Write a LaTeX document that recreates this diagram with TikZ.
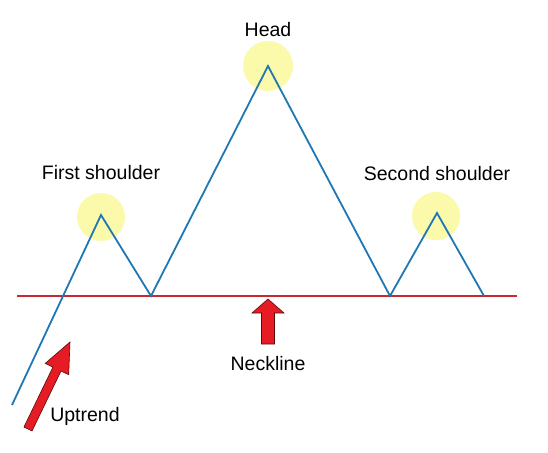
\documentclass[tikz,border=0pt]{standalone}
\usepackage{fontspec}
\setmainfont{Liberation Sans}
\definecolor{trendblue}{RGB}{31,119,180}
\definecolor{neckred}{RGB}{200,40,50}
\definecolor{glow}{RGB}{250,250,170}
\definecolor{arrowfill}{RGB}{230,28,36}
\definecolor{arrowedge}{RGB}{90,10,10}
\begin{document}
\begin{tikzpicture}[x=1pt,y=-1pt,
  trend/.style={draw=trendblue,line width=1.8pt,line join=miter},
  neck/.style={draw=neckred,line width=1.5pt},
  halo/.style={fill=glow,draw=none},
  bigarrow/.style={fill=arrowfill,draw=arrowedge,line width=0.6pt,line join=miter},
  lbl/.style={font=\fontsize{19.5}{23}\selectfont,text=black,inner sep=0pt}]
\useasboundingbox (0,0) rectangle (548,452);
\fill[white] (0,0) rectangle (548,452);
% halos
\fill[halo] (268,66) circle (25);
\fill[halo] (101,217) circle (24);
\fill[halo] (436,216) circle (24);
% key points
\coordinate (start) at (12,405);
\coordinate (s1) at (101,215);
\coordinate (v1) at (151,296);
\coordinate (head) at (268,66);
\coordinate (v2) at (390,296);
\coordinate (s2) at (437,213);
\coordinate (end) at (484,296);
\coordinate (nl) at (17,296);
\coordinate (nr) at (517,296);
% neckline
\draw[neck] (nl) -- (nr);
% pattern
\draw[trend] (start) -- (s1) -- (v1) -- (head) -- (v2) -- (s2) -- (end);
% uptrend arrow
\draw[bigarrow] (70,342) -- (68.7,374.7) -- (61.0,371.0) -- (32.05,430.96)
  -- (23.95,427.04) -- (52.9,367.1) -- (45.2,363.4) -- cycle;
% neckline arrow
\draw[bigarrow] (268,299) -- (284,313) -- (274.5,313) -- (274.5,344)
  -- (261.5,344) -- (261.5,313) -- (252,313) -- cycle;
% labels
\node[lbl] (lhead) at (268,30) {Head};
\node[lbl] (lfirst) at (101,173) {First shoulder};
\node[lbl] (lsecond) at (437,174) {Second shoulder};
\node[lbl] (lneck) at (268,364) {Neckline};
\node[lbl] (lup) at (85,416) {Uptrend};
\end{tikzpicture}
\end{document}
